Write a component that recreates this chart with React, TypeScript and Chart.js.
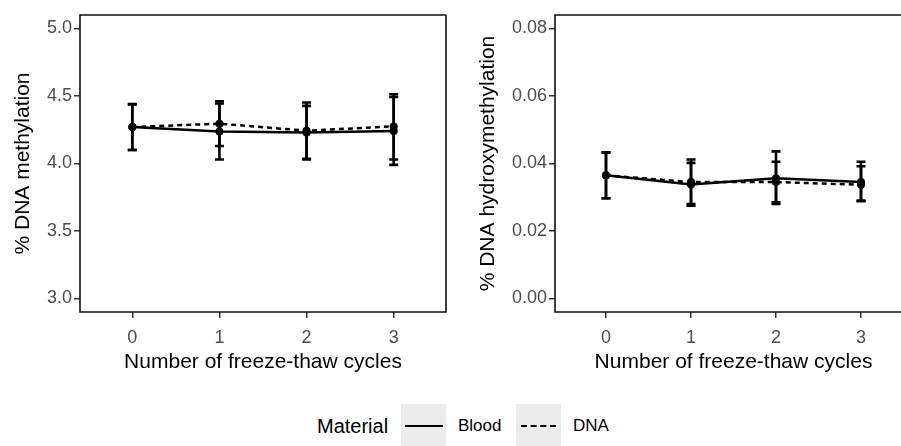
import React, { useEffect, useRef } from 'react';
import { Chart, registerables } from 'chart.js';

Chart.register(...registerables);

const categories = ['0', '1', '2', '3'];

const bloodMeth = [4.27, 4.237, 4.23, 4.24];
const bloodMethLo = [4.1, 4.03, 4.03, 3.99];
const bloodMethHi = [4.437, 4.444, 4.427, 4.493];
const dnaMeth = [4.27, 4.295, 4.243, 4.275];
const dnaMethLo = [4.1, 4.13, 4.035, 4.03];
const dnaMethHi = [4.44, 4.461, 4.452, 4.513];

const bloodHm = [0.0365, 0.0338, 0.0356, 0.0345];
const bloodHmLo = [0.0297, 0.0275, 0.028, 0.0288];
const bloodHmHi = [0.0433, 0.0402, 0.0436, 0.0405];
const dnaHm = [0.0365, 0.0345, 0.0345, 0.0337];
const dnaHmLo = [0.0297, 0.028, 0.0285, 0.029];
const dnaHmHi = [0.0433, 0.0412, 0.0405, 0.0392];

const methTicks = [3.0, 3.5, 4.0, 4.5, 5.0];
const hmTicks = [0.0, 0.02, 0.04, 0.06, 0.08];

const FONT = '"Liberation Sans", Arial, Helvetica, sans-serif';

type PanelSpec = {
  blood: number[]; bloodLo: number[]; bloodHi: number[];
  dna: number[]; dnaLo: number[]; dnaHi: number[];
  ticks: number[]; decimals: number; yMin: number; yMax: number;
  yTitle: string; yAxisWidth: number; yTitlePad: number; padRight: number; drawRight: boolean;
};

function makeConfig(p: PanelSpec): any {
  const bars = [
    { lo: p.bloodLo, hi: p.bloodHi },
    { lo: p.dnaLo, hi: p.dnaHi },
  ];
  const errorBars = {
    id: 'errorBars',
    afterDatasetsDraw(chart: any) {
      const { ctx } = chart;
      const y = chart.scales.y;
      bars.forEach((b, i) => {
        const meta = chart.getDatasetMeta(i);
        ctx.save();
        ctx.strokeStyle = '#000';
        ctx.lineWidth = 2.6;
        ctx.setLineDash([]);
        meta.data.forEach((pt: any, j: number) => {
          const x = pt.x;
          const yl = y.getPixelForValue(b.lo[j]);
          const yh = y.getPixelForValue(b.hi[j]);
          ctx.beginPath();
          ctx.moveTo(x, yl); ctx.lineTo(x, yh);
          ctx.moveTo(x - 4.5, yl); ctx.lineTo(x + 4.5, yl);
          ctx.moveTo(x - 4.5, yh); ctx.lineTo(x + 4.5, yh);
          ctx.stroke();
        });
        ctx.restore();
      });
    },
  };
  const panelBorder = {
    id: 'panelBorder',
    afterDraw(chart: any) {
      const { ctx, chartArea: a } = chart;
      ctx.save();
      ctx.strokeStyle = '#111';
      ctx.lineWidth = 1.6;
      ctx.beginPath();
      ctx.moveTo(a.right, a.top);
      ctx.lineTo(a.left, a.top);
      ctx.lineTo(a.left, a.bottom);
      ctx.lineTo(a.right, a.bottom);
      if (p.drawRight) ctx.lineTo(a.right, a.top);
      ctx.stroke();
      ctx.restore();
    },
  };
  const toPts = (arr: number[]) => arr.map((v, i) => ({ x: i, y: v }));
  return {
    type: 'line',
    data: {
      datasets: [
        {
          label: 'Blood', data: toPts(p.blood), borderColor: '#000', backgroundColor: '#000',
          borderWidth: 2.5, pointRadius: 4, pointBackgroundColor: '#000', pointBorderWidth: 0,
          tension: 0, fill: false,
        },
        {
          label: 'DNA', data: toPts(p.dna), borderColor: '#000', backgroundColor: '#000',
          borderWidth: 2.5, borderDash: [5, 4], pointRadius: 4, pointBackgroundColor: '#000',
          pointBorderWidth: 0, tension: 0, fill: false,
        },
      ],
    },
    options: {
      animation: false,
      responsive: false,
      devicePixelRatio: 1,
      layout: { padding: { top: 15, right: p.padRight, left: 0, bottom: 0 } },
      plugins: { legend: { display: false }, tooltip: { enabled: false } },
      scales: {
        x: {
          type: 'linear', min: -0.6, max: 3.6,
          afterBuildTicks: (s: any) => { s.ticks = categories.map((_, i) => ({ value: i })); },
          afterFit: (s: any) => { s.height = 68; },
          ticks: {
            callback: (v: number) => categories[v],
            font: { family: FONT, size: 18 }, color: '#4d4d4d', padding: 9,
            autoSkip: false, maxRotation: 0,
          },
          grid: { display: true, drawOnChartArea: false, drawTicks: true, tickLength: 6, color: '#333', lineWidth: 1.5 },
          border: { display: false },
          title: {
            display: true, text: 'Number of freeze-thaw cycles', color: '#000',
            font: { family: FONT, size: 21, lineHeight: 1 }, padding: { top: 0, bottom: 7.5 },
          },
        },
        y: {
          type: 'linear', min: p.yMin, max: p.yMax,
          afterBuildTicks: (s: any) => { s.ticks = p.ticks.map((v) => ({ value: v })); },
          afterFit: (s: any) => { s.width = p.yAxisWidth; },
          ticks: {
            callback: (v: number) => Number(v).toFixed(p.decimals),
            font: { family: FONT, size: 18 }, color: '#4d4d4d', padding: 2,
          },
          grid: { display: true, drawOnChartArea: false, drawTicks: true, tickLength: 6, color: '#333', lineWidth: 1.5 },
          border: { display: false },
          title: {
            display: true, text: p.yTitle, color: '#000',
            font: { family: FONT, size: 21, lineHeight: 1 }, padding: { top: p.yTitlePad, bottom: 0 },
          },
        },
      },
    },
    plugins: [errorBars, panelBorder],
  };
}

function Panel(props: { spec: PanelSpec; left: number; width: number; height: number }) {
  const ref = useRef<HTMLCanvasElement>(null);
  useEffect(() => {
    const chart = new Chart(ref.current as HTMLCanvasElement, makeConfig(props.spec));
    return () => chart.destroy();
  }, []);
  return (
    <canvas
      ref={ref}
      width={props.width}
      height={props.height}
      style={{ position: 'absolute', left: props.left, top: 0, width: props.width, height: props.height, display: 'block' }}
    />
  );
}

const leftSpec: PanelSpec = {
  blood: bloodMeth, bloodLo: bloodMethLo, bloodHi: bloodMethHi,
  dna: dnaMeth, dnaLo: dnaMethLo, dnaHi: dnaMethHi,
  ticks: methTicks, decimals: 1, yMin: 2.9, yMax: 5.1,
  yTitle: '% DNA methylation', yAxisWidth: 80, yTitlePad: 12.5, padRight: 3, drawRight: true,
};

const rightSpec: PanelSpec = {
  blood: bloodHm, bloodLo: bloodHmLo, bloodHi: bloodHmHi,
  dna: dnaHm, dnaLo: dnaHmLo, dnaHi: dnaHmHi,
  ticks: hmTicks, decimals: 2, yMin: -0.004, yMax: 0.084,
  yTitle: '% DNA hydroxymethylation', yAxisWidth: 105, yTitlePad: 27.5, padRight: 8, drawRight: false,
};

export default function App() {
  const keyBox: React.CSSProperties = {
    position: 'absolute', top: 404, width: 45, height: 44, background: '#ebebeb',
  };
  const label: React.CSSProperties = {
    position: 'absolute', top: 404, height: 44, lineHeight: '44px', fontFamily: FONT,
    fontSize: 17, color: '#000', whiteSpace: 'nowrap',
  };
  return (
    <div style={{ position: 'absolute', left: 0, top: 0, width: 901, height: 446, overflow: 'hidden', background: '#fff' }}>
      <Panel spec={leftSpec} left={0} width={450} height={380} />
      <Panel spec={rightSpec} left={450} width={470} height={380} />
      <div style={{ ...label, left: 317, fontSize: 20 }}>Material</div>
      <div style={{ ...keyBox, left: 401 }}>
        <div style={{ position: 'absolute', left: 4, right: 3, top: 21, borderTop: '2.5px solid #000' }} />
      </div>
      <div style={{ ...label, left: 458 }}>Blood</div>
      <div style={{ ...keyBox, left: 516 }}>
        <div style={{ position: 'absolute', left: 5, right: 5, top: 21, height: 0, borderTop: '2.5px dashed #000' }} />
      </div>
      <div style={{ ...label, left: 573 }}>DNA</div>
    </div>
  );
}
